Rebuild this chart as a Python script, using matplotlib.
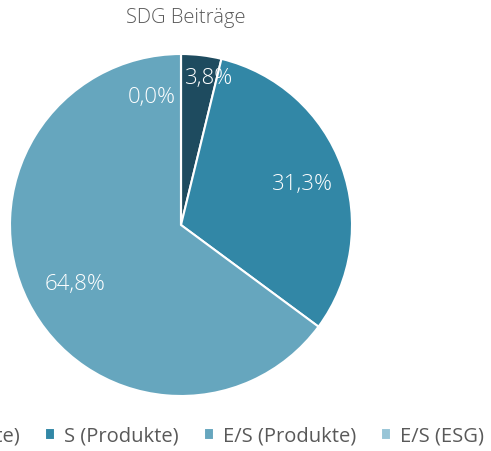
import numpy as np
import matplotlib.pyplot as plt

# data
categories = ['E (Produkte)', 'S (Produkte)', 'E/S (Produkte)', 'E/S (ESG)']
values = [3.8, 31.3, 64.8, 0.0]
colors = ['#1E4B5F', '#3287A6', '#66A6BE', '#98C5D7']
title = 'SDG Beiträge'

plt.rcParams['font.family'] = ['Open Sans', 'DejaVu Sans']

fig = plt.figure(figsize=(4.91, 4.52), dpi=100)
# pie centered at ~ (181, 226) px, radius ~171 px
ax = fig.add_axes([(181 - 171) / 491, (452 - 226 - 171) / 452, 342 / 491, 342 / 452])

wedges, _ = ax.pie(values, colors=colors, startangle=90, counterclock=False,
                   wedgeprops=dict(edgecolor='white', linewidth=1.5))
ax.set_xlim(-1, 1)
ax.set_ylim(-1, 1)
ax.set_aspect('equal')

# data labels: radius and angle shift (deg) relative to each wedge's mid angle
label_r = [0.88, 0.75, 0.71, 0.77]
label_shift = [-4, -1, 2, 13]
for w, v, r, s in zip(wedges, values, label_r, label_shift):
    base = w.theta1 if v == 0 else (w.theta1 + w.theta2) / 2
    ang = np.deg2rad(base + s)
    x, y = r * np.cos(ang), r * np.sin(ang)
    ax.text(x, y, f'{v:.1f}%'.replace('.', ','), ha='center', va='center',
            color='white', fontsize=16, fontweight='light')

fig.text(186 / 491, 1 - 18 / 452, title, ha='center', va='center',
         color='#595959', fontsize=14.5, fontweight='light')

fig.legend(wedges, categories, loc='center', bbox_to_anchor=(185 / 491, 1 - 437 / 452),
           ncol=4, frameon=False, fontsize=14.5, labelcolor='#595959',
           handlelength=0.5, handleheight=0.5, handletextpad=0.45, columnspacing=1.25)

fig.savefig('out.png', dpi=100)
